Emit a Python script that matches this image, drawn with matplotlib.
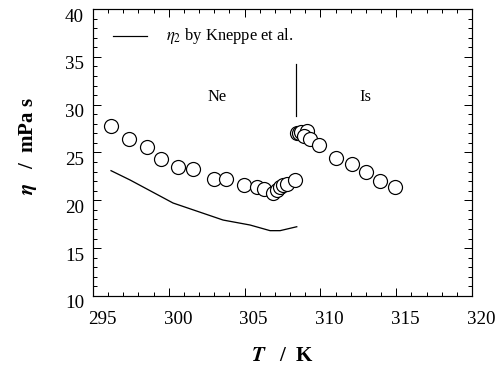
import matplotlib
matplotlib.use("Agg")
import matplotlib.pyplot as plt
import matplotlib.transforms as mtransforms
from matplotlib.ticker import MultipleLocator

plt.rcParams['font.family'] = ['Liberation Serif', 'DejaVu Serif']
plt.rcParams['mathtext.fontset'] = 'stix'

# Nematic phase viscosity data
ne_T = [296.19, 297.39, 298.58, 299.49, 300.63, 301.62, 302.98, 303.75, 304.94,
        305.80, 306.28, 306.85, 307.12, 307.34, 307.55, 307.82, 308.30]
ne_eta = [27.77, 26.41, 25.61, 24.29, 23.52, 23.24, 22.26, 22.20, 21.57,
          21.42, 21.22, 20.80, 21.08, 21.36, 21.57, 21.71, 22.13]

# Isotropic phase viscosity data
is_T = [308.45, 308.58, 308.72, 309.12, 308.92, 309.31, 309.91, 311.03,
        312.08, 313.01, 313.93, 314.92]
is_eta = [27.04, 27.04, 27.14, 27.25, 26.72, 26.41, 25.78, 24.42,
          23.80, 22.96, 22.02, 21.39]

# eta_2 by Kneppe et al.
kn_T = [296.19, 297.44, 300.28, 303.58, 305.36, 306.68, 307.34, 308.44]
kn_eta = [23.10, 22.13, 19.72, 17.94, 17.42, 16.83, 16.83, 17.24]

# transition marker
tr_T = [308.39, 308.39]
tr_eta = [34.3, 28.8]

fig = plt.figure(figsize=(504/72, 372/72), dpi=72)
ax = fig.add_axes([93/504, 1-296/372, (472-93)/504, (296-9)/372])

ax.plot(kn_T, kn_eta, color='black', lw=1.3)
ax.plot(ne_T, ne_eta, 'o', ms=14, mfc='white', mec='black', mew=1.2)
ax.plot(is_T, is_eta, 'o', ms=14, mfc='white', mec='black', mew=1.2)
ax.plot(tr_T, tr_eta, color='black', lw=1.2)

# legend-like annotation
ax.plot([296.3, 298.55], [37.2, 37.2], color='black', lw=1.2)
ax.text(299.8, 37.2, r'$\eta_2$ by Kneppe et al.', fontsize=16.5, va='center', ha='left')
ax.text(303.2, 30.8, 'Ne', fontsize=16.5, ha='center', va='center')
ax.text(313.0, 30.8, 'Is', fontsize=16.5, ha='center', va='center')

ax.set_xlim(295, 320)
ax.set_ylim(10, 40)
ax.xaxis.set_major_locator(MultipleLocator(5))
ax.xaxis.set_minor_locator(MultipleLocator(1))
ax.yaxis.set_major_locator(MultipleLocator(5))
ax.yaxis.set_minor_locator(MultipleLocator(1))
ax.tick_params(which='both', direction='in', top=True, right=True, width=1)
ax.tick_params(axis='x', which='major', labelsize=19, pad=15)
ax.tick_params(axis='y', which='major', labelsize=19, pad=9)
ax.tick_params(which='major', length=8)
ax.tick_params(which='minor', length=4)
for s in ax.spines.values():
    s.set_linewidth(1.2)

# shift tick labels like the original figure
xoff = mtransforms.ScaledTranslation(9/72, 0, fig.dpi_scale_trans)
for lab in ax.get_xticklabels():
    lab.set_transform(lab.get_transform() + xoff)
yoff = mtransforms.ScaledTranslation(0, -6/72, fig.dpi_scale_trans)
for lab in ax.get_yticklabels():
    lab.set_transform(lab.get_transform() + yoff)

ax.set_xlabel(r'$\mathbfit{T}$   /  K', fontsize=21, fontweight='bold', labelpad=18)
ax.set_ylabel(r'$\mathbfit{\eta}$   /  mPa s', fontsize=21, fontweight='bold', labelpad=14)
ax.yaxis.set_label_coords(-(93-39)/(472-93), (296-146)/(296-9))

fig.savefig('out.png', dpi=72)
